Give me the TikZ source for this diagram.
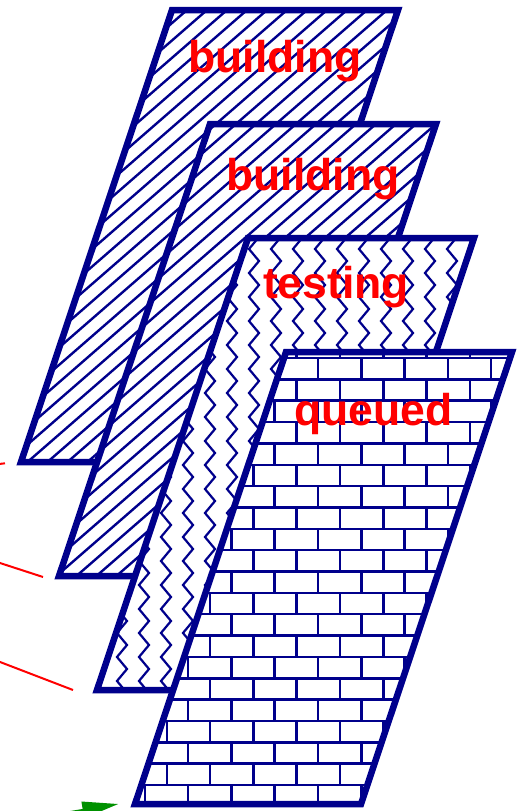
\documentclass[tikz,border=0pt]{standalone}
\usepackage{fontspec}
\setmainfont{Liberation Sans}
\usetikzlibrary{arrows.meta,decorations.pathmorphing}
\definecolor{slabblue}{RGB}{0,0,140}
\definecolor{tagred}{RGB}{255,0,0}
\definecolor{tipgreen}{RGB}{0,145,0}
% one slanted sheet, given by its top left corner
\newcommand{\slabpath}[2]{(#1,#2) -- ++(226,0) -- ++(-151,452) -- ++(-226,0) -- cycle}
\begin{document}
\begin{tikzpicture}[x=1pt, y=-1pt,
        slab/.style={draw=slabblue, line width=6.5pt, line join=miter},
        hatch/.style={draw=slabblue, line width=2.4pt},
        zig/.style={draw=slabblue, line width=2.2pt, decorate,
            decoration={zigzag, segment length=24pt, amplitude=5pt}},
        brick/.style={draw=slabblue, line width=2.5pt},
        lbl/.style={text=tagred, font=\bfseries\fontsize{44.5}{50}\selectfont, anchor=base, inner sep=0pt},
        feed/.style={draw=tagred, line width=2pt}
    ]
        \clip (0,0) rectangle (518,811);

        % Incoming lines
        \coordinate (srcA) at (-20,466.3);
        \coordinate (endA) at (5,463.3);
        \coordinate (srcB) at (-20,556.5);
        \coordinate (endB) at (43,577);
        \coordinate (srcC) at (-20,654.3);
        \coordinate (endC) at (73,690);
        \coordinate (srcG) at (-23.3,827.6);
        \coordinate (tipG) at (118.3,804);

        % Sheet 1: building
        \fill[white] \slabpath{172}{10};
        \begin{scope}
            \clip \slabpath{172}{10};
            \foreach \x in {-1.5,18.5,...,1200} \draw[hatch] (\x,0) -- ++(-700,609);
        \end{scope}
        \draw[slab] \slabpath{172}{10};
        \node (tagA) [lbl] at (275,72) {building};

        % Sheet 2: building
        \fill[white] \slabpath{210}{124};
        \begin{scope}
            \clip \slabpath{210}{124};
            \foreach \x in {-1.5,18.5,...,1200} \draw[hatch] (\x,0) -- ++(-700,609);
        \end{scope}
        \draw[slab] \slabpath{210}{124};
        \node (tagB) [lbl] at (313,190) {building};

        % Sheet 3: testing
        \fill[white] \slabpath{248}{238};
        \begin{scope}
            \clip \slabpath{248}{238};
            \foreach \k in {-5,...,12} \draw[zig] ({210+22*\k},207) -- ({210+22*\k},711);
        \end{scope}
        \draw[slab] \slabpath{248}{238};
        \node (tagC) [lbl] at (336,298) {testing};

        % Sheet 4: queued
        \fill[white] \slabpath{286}{352};
        \begin{scope}
            \clip \slabpath{286}{352};
            \foreach \r in {-1,...,21}{
                \pgfmathsetmacro\rowy{358+21.35*\r}
                \pgfmathsetmacro\rowx{mod(\r+2,2)==0 ? 318 : 296.7}
                \draw[brick] (100,\rowy) -- (520,\rowy);
                \foreach \k in {-5,...,5}
                    \draw[brick] ({\rowx+43.3*\k},\rowy) -- ++(0,21.35);
            }
        \end{scope}
        \draw[slab] \slabpath{286}{352};
        \node (tagD) [lbl] at (373.5,425) {queued};

        \draw[feed] (srcA) -- (endA);
        \draw[feed] (srcB) -- (endB);
        \draw[feed] (srcC) -- (endC);
        \draw[tipgreen, line width=2pt, -{Triangle[length=36pt 0 0, width=16.5pt 0 0]}] (srcG) -- (tipG);
    \end{tikzpicture}
\end{document}
